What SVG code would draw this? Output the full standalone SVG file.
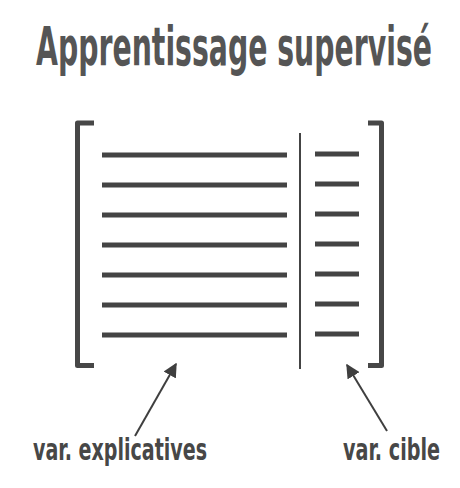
<svg xmlns="http://www.w3.org/2000/svg" width="460" height="488" viewBox="0 0 460 488">
<defs>
<style>
.t{font-family:"DejaVu Sans Condensed","Liberation Sans Narrow","Roboto","Liberation Sans",sans-serif;fill:#474747;font-weight:bold}
.br{fill:none;stroke:#474747;stroke-width:5;stroke-linejoin:round;stroke-linecap:butt}
.ln{stroke:#444;stroke-width:5}
.ar{stroke:#3f3f3f;stroke-width:2;fill:none}
</style>
<marker id="ah" viewBox="0 0 10 10" refX="9" refY="5" markerWidth="7" markerHeight="7" markerUnits="strokeWidth" orient="auto">
<path d="M0,0 L10,5 L0,10 Z" fill="#3f3f3f"/>
</marker>
</defs>
<rect width="460" height="488" fill="#fff"/>
<g id="title"><text class="t" x="36" y="65" font-size="54" textLength="396" lengthAdjust="spacingAndGlyphs" style="fill:#555">Apprentissage supervisé</text></g>
<g id="matrix">
<path class="br" d="M94,123 H77.5 V365.5 H94"/>
<path class="br" d="M368,123 H381.5 V365.5 H368"/>
<line x1="300" y1="133" x2="300" y2="369" stroke="#444" stroke-width="2"/>
<g class="ln">
<line x1="102" y1="155" x2="287" y2="155"/>
<line x1="102" y1="185" x2="287" y2="185"/>
<line x1="102" y1="215" x2="287" y2="215"/>
<line x1="102" y1="245" x2="287" y2="245"/>
<line x1="102" y1="275" x2="287" y2="275"/>
<line x1="102" y1="305" x2="287" y2="305"/>
<line x1="102" y1="335" x2="287" y2="335"/>
<line x1="315" y1="154" x2="359" y2="154"/>
<line x1="315" y1="184" x2="359" y2="184"/>
<line x1="315" y1="214" x2="359" y2="214"/>
<line x1="315" y1="244" x2="359" y2="244"/>
<line x1="315" y1="274" x2="359" y2="274"/>
<line x1="315" y1="304" x2="359" y2="304"/>
<line x1="315" y1="334" x2="359" y2="334"/>
</g>
</g>
<g id="connectors">
<line class="ar" x1="135" y1="436" x2="176" y2="364" marker-end="url(#ah)"/>
<line class="ar" x1="387" y1="431" x2="347" y2="365" marker-end="url(#ah)"/>
</g>
<g id="label-explicatives"><text class="t" x="33" y="460" font-size="31" textLength="174" lengthAdjust="spacingAndGlyphs">var. explicatives</text></g>
<g id="label-cible"><text class="t" x="343" y="460" font-size="31" textLength="97" lengthAdjust="spacingAndGlyphs">var. cible</text></g>
</svg>
